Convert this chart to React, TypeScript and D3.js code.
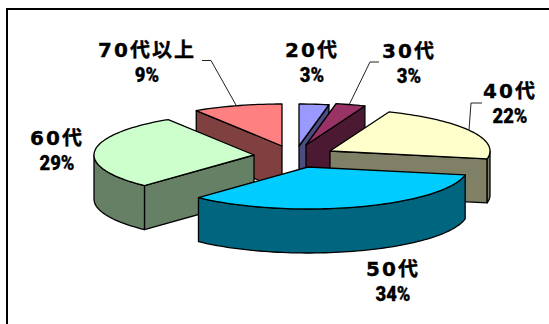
import React from "react";
import * as d3 from "d3";

const categories = ["20代", "30代", "40代", "50代", "60代", "70代以上"];
const shares = [3, 3, 22, 34, 29, 9];
const topColors = ["#9999FF", "#993366", "#FFFFCC", "#00CCFF", "#CCFFCC", "#FF8080"];
const sideColors = ["#4C4C80", "#4C1933", "#808066", "#006680", "#668066", "#804040"];
const apexX = [299, 306, 330, 308, 254, 282];
const apexY = [146, 145, 151, 167, 155, 146];
const labelX = [312, 409, 510, 393, 57, 147];
const labelY = [57, 58, 98, 276, 145, 57];
const leaders = [
  null,
  [[379, 62], [370, 62], [349, 105]],
  [[482, 103], [471, 103], [469, 130]],
  null,
  null,
  [[202, 60.5], [211, 60.5], [236, 105]],
];
const drawOrder = [5, 0, 1, 2, 4, 3];

const W = 549, H = 324, RX = 160, RY = 42, DEPTH = 44;

const pie = d3.pie<number>().sort(null).value((d) => d);
const arcs = pie(shares);
const line = d3.line();

function pt(i: number, t: number, dz = 0): [number, number] {
  return [apexX[i] + RX * Math.sin(t), apexY[i] - RY * Math.cos(t) + dz];
}
function sweep(i: number, a: number, b: number, dz = 0): [number, number][] {
  const n = Math.max(2, Math.ceil((b - a) / 0.03));
  return d3.range(n + 1).map((k) => pt(i, a + ((b - a) * k) / n, dz));
}

function Slice({ i }: { i: number }) {
  const { startAngle: s, endAngle: e } = arcs[i];
  const apex: [number, number] = [apexX[i], apexY[i]];
  const apexLow: [number, number] = [apexX[i], apexY[i] + DEPTH];
  const common = { stroke: "#000", strokeWidth: 1.3, strokeLinejoin: "round" as const };
  const faces: [number, number][][] = [];
  if (Math.sin(s) < -1e-6) faces.push([apex, pt(i, s), pt(i, s, DEPTH), apexLow]);
  if (Math.sin(e) > 1e-6) faces.push([apex, pt(i, e), pt(i, e, DEPTH), apexLow]);
  const wa = Math.max(s, Math.PI / 2);
  const wb = Math.min(e, (3 * Math.PI) / 2);
  const wall = wb > wa ? [...sweep(i, wa, wb), ...sweep(i, wa, wb, DEPTH).reverse()] : null;
  return (
    <g>
      {faces.map((f, k) => (
        <path key={k} d={line(f) + "Z"} fill={sideColors[i]} {...common} />
      ))}
      {wall && <path d={line(wall) + "Z"} fill={sideColors[i]} {...common} />}
      <path d={line([apex, ...sweep(i, s, e)]) + "Z"} fill={topColors[i]} {...common} />
    </g>
  );
}

function Label({ i }: { i: number }) {
  const m = categories[i].match(/^(\d+)(.*)$/)!;
  return (
    <g textAnchor="middle" fill="#000">
      <text x={labelX[i]} y={labelY[i]} fontWeight="bold" letterSpacing={2} stroke="#000" strokeWidth={0.35}>
        <tspan fontFamily="'DejaVu Sans'" fontSize={20}>{m[1]}</tspan>
        <tspan fontFamily="'Noto Sans CJK JP'" fontSize={20}>{m[2]}</tspan>
      </text>
      <text
        transform={`translate(${labelX[i]},${labelY[i] + 25}) scale(0.92,1)`}
        fontWeight={900}
        fontFamily="Roboto, 'Liberation Sans'"
        fontSize={20}
        stroke="#000"
        strokeWidth={0.3}
      >
        {shares[i]}%
      </text>
    </g>
  );
}

export default function App() {
  return (
    <svg width={W} height={H} viewBox={`0 0 ${W} ${H}`} style={{ position: "absolute", left: 0, top: 0, background: "#fff" }}>
      <path d={line([[7, H], [7, 9], [W, 9]])!} fill="none" stroke="#000" strokeWidth={2} />
      {leaders.map((l, i) =>
        l ? <path key={i} d={line(l as [number, number][])!} fill="none" stroke="#222" strokeWidth={1} /> : null
      )}
      {drawOrder.map((i) => (
        <Slice key={i} i={i} />
      ))}
      {categories.map((_, i) => (
        <Label key={i} i={i} />
      ))}
    </svg>
  );
}
